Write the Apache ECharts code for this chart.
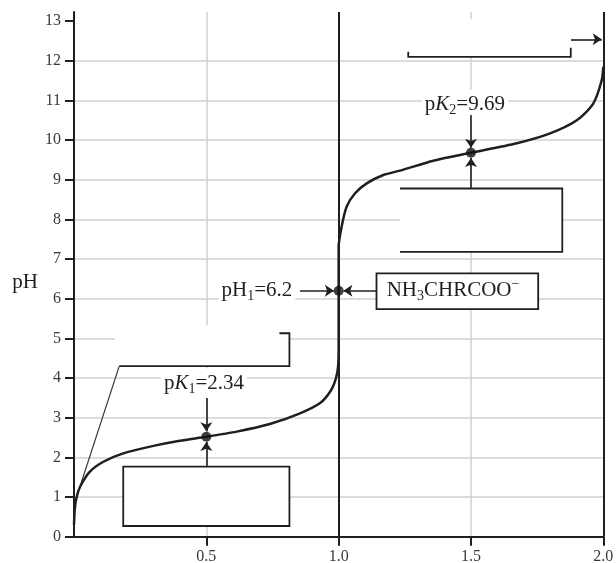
<!DOCTYPE html>
<html>
<head>
<meta charset="utf-8">
<script src="https://cdn.jsdelivr.net/npm/echarts@6/dist/echarts.min.js"></script>
<style>
html, body { margin: 0; padding: 0; background: #fff; }
#chart { width: 616px; height: 563px; }
</style>
</head>
<body>
<div id="chart"></div>
<script>
// titration curve: equivalents of OH- added vs pH
const equivOH = [0, 0.003, 0.01, 0.023, 0.06, 0.111, 0.186, 0.3, 0.4, 0.5, 0.615, 0.74, 0.854, 0.93, 0.97, 0.99, 0.998, 1.0,
  1.0, 1.0, 1.011, 1.03, 1.062, 1.106, 1.169, 1.232, 1.358, 1.5, 1.673, 1.799, 1.9, 1.962, 1.994, 2.0];
const phValues = [0.3, 0.7, 1.0, 1.26, 1.64, 1.89, 2.10, 2.29, 2.42, 2.52, 2.65, 2.84, 3.11, 3.37, 3.68, 4.0, 4.3, 4.8,
  6.2, 7.31, 7.81, 8.32, 8.66, 8.91, 9.12, 9.23, 9.48, 9.68, 9.92, 10.17, 10.5, 10.92, 11.51, 11.85];

// marked points: pK1, pI, pK2
const keyX = [0.5, 1.0, 1.5];
const keyPH = [2.52, 6.2, 9.68];

const yTicks = [0, 1, 2, 3, 4, 5, 6, 7, 8, 9, 10, 11, 12, 13];
const blackLinesX = [1.0, 2.0];

const SERIF = '"Liberation Serif", "Times New Roman", serif';
const INK = '#1f1f1f';

// annotations, in data coordinates
const arrows = [
  [[0.5, 3.50], [0.5, 2.66]],
  [[0.5, 1.76], [0.5, 2.39]],
  [[1.5, 10.63], [1.5, 9.81]],
  [[1.5, 8.78], [1.5, 9.55]],
  [[0.854, 6.2], [0.982, 6.2]],
  [[1.143, 6.2], [1.018, 6.2]],
  [[1.878, 12.54], [1.994, 12.54]]
];
const whiteAreas = [
  [0.155, 5.34, 0.816, 4.30],
  [1.262, 13.05, 1.878, 12.09]
];
const framedBoxes = [
  [0.186, 1.765, 0.814, 0.27],
  [1.143, 6.64, 1.754, 5.74]
];
const openBox = [[1.232, 8.78], [1.845, 8.78], [1.845, 7.18], [1.232, 7.18]];
const calloutLeft = [[0.776, 5.13], [0.814, 5.13], [0.814, 4.30], [0.171, 4.30], [0.021, 1.23]];
const bracketTop = [[1.263, 12.23], [1.263, 12.10], [1.877, 12.10], [1.877, 12.33]];

const labels = [
  { at: [0.491, 3.86], align: 'center', text: '{n|p}{i|K}{s|1}{n|=2.34}' },
  { at: [1.477, 10.89], align: 'center', text: '{n|p}{i|K}{s|2}{n|=9.69}' },
  { at: [0.836, 6.2], align: 'right', text: '{n|pH}{s|1}{n|=6.2}' },
  { at: [1.17, 6.2], align: 'left', text: '{n|NH}{s|3}{n|CHRCOO}{p|\u2212}', bg: false }
];

const chart = echarts.init(document.getElementById('chart'));

chart.setOption({
  animation: false,
  backgroundColor: '#fff',
  grid: { left: 74, right: 12.7, top: 12, bottom: 26.3, outerBoundsMode: 'none' },
  xAxis: {
    type: 'value',
    min: 0,
    max: 2,
    interval: 0.5,
    axisLine: { lineStyle: { color: INK, width: 2 } },
    axisTick: { length: 9, lineStyle: { color: INK, width: 2 } },
    axisLabel: {
      showMinLabel: false,
      margin: 12,
      fontFamily: SERIF,
      fontSize: 16,
      color: '#3a3a3a',
      formatter: v => v.toFixed(1)
    },
    splitLine: { show: true, lineStyle: { color: '#d0d0d0', width: 1.5 } }
  },
  yAxis: {
    type: 'value',
    min: 0,
    max: 13.23,
    interval: 1,
    name: 'pH',
    nameLocation: 'middle',
    nameRotate: 0,
    nameGap: 36,
    nameTextStyle: { fontFamily: SERIF, fontSize: 21, color: INK, verticalAlign: 'top', lineHeight: 16 },
    axisLine: { lineStyle: { color: INK, width: 2 } },
    axisTick: { length: 9, customValues: yTicks, lineStyle: { color: INK, width: 2 } },
    axisLabel: { customValues: yTicks, margin: 13, fontFamily: SERIF, fontSize: 16, color: '#3a3a3a' },
    splitLine: { show: true, showMaxLine: false, lineStyle: { color: '#d0d0d0', width: 1.5 } }
  },
  series: [
    {
      type: 'line',
      data: equivOH.map((x, i) => [x, phValues[i]]),
      showSymbol: false,
      smooth: 0.25,
      lineStyle: { color: INK, width: 2.5 },
      z: 3,
      markLine: {
        silent: true,
        symbol: 'none',
        label: { show: false },
        lineStyle: { color: INK, width: 2, type: 'solid' },
        data: blackLinesX.map(x => ({ xAxis: x }))
      }
    },
    {
      type: 'scatter',
      data: keyX.map((x, i) => [x, keyPH[i]]),
      symbolSize: 10,
      itemStyle: { color: '#111' },
      z: 5,
      markLine: {
        silent: true,
        label: { show: false },
        lineStyle: { color: INK, width: 1.6, type: 'solid' },
        data: arrows.map(a => [
          { coord: a[0], symbol: 'none' },
          { coord: a[1], symbol: 'arrow', symbolSize: 9 }
        ])
      }
    }
  ]
});

// annotation boxes and texts placed through the chart's own scales
const px = p => chart.convertToPixel({ gridIndex: 0 }, p);
const graphics = [];

whiteAreas.forEach(b => {
  const a = px([b[0], b[1]]), c = px([b[2], b[3]]);
  graphics.push({ type: 'rect', z: 1, shape: { x: a[0], y: a[1], width: c[0] - a[0], height: c[1] - a[1] },
    style: { fill: '#fff' } });
});
framedBoxes.forEach(b => {
  const a = px([b[0], b[1]]), c = px([b[2], b[3]]);
  graphics.push({ type: 'rect', z: 1, shape: { x: a[0], y: a[1], width: c[0] - a[0], height: c[1] - a[1] },
    style: { fill: '#fff', stroke: INK, lineWidth: 1.8 } });
});
{
  const a = px(openBox[0]), c = px(openBox[2]);
  graphics.push({ type: 'rect', z: 1, shape: { x: a[0], y: a[1], width: c[0] - a[0], height: c[1] - a[1] },
    style: { fill: '#fff' } });
  graphics.push({ type: 'polyline', z: 1, shape: { points: openBox.map(px) },
    style: { fill: null, stroke: INK, lineWidth: 1.8 } });
}
graphics.push({ type: 'polyline', z: 1, shape: { points: calloutLeft.slice(0, 4).map(px) },
  style: { fill: null, stroke: INK, lineWidth: 1.8 } });
graphics.push({ type: 'polyline', z: 1, shape: { points: calloutLeft.slice(3).map(px) },
  style: { fill: null, stroke: '#333', lineWidth: 1.2 } });
graphics.push({ type: 'polyline', z: 1, shape: { points: bracketTop.map(px) },
  style: { fill: null, stroke: INK, lineWidth: 1.8 } });

const rich = {
  n: { fontFamily: SERIF, fontSize: 21, lineHeight: 26, fill: INK },
  i: { fontFamily: SERIF, fontSize: 21, fontStyle: 'italic', lineHeight: 26, fill: INK },
  s: { fontFamily: SERIF, fontSize: 14, lineHeight: 12, verticalAlign: 'bottom', fill: INK },
  p: { fontFamily: SERIF, fontSize: 14, lineHeight: 14, verticalAlign: 'top', fill: INK }
};
labels.forEach(l => {
  const p = px(l.at);
  graphics.push({
    type: 'text', z: 4, x: p[0], y: p[1],
    style: {
      text: l.text, rich: rich, fill: INK, font: '21px ' + SERIF,
      align: l.align, verticalAlign: 'middle', textAlign: l.align, textVerticalAlign: 'middle',
      backgroundColor: l.bg === false ? null : '#fff', padding: [2, 3]
    }
  });
});

chart.setOption({ graphic: { elements: graphics } });
</script>
</body>
</html>
